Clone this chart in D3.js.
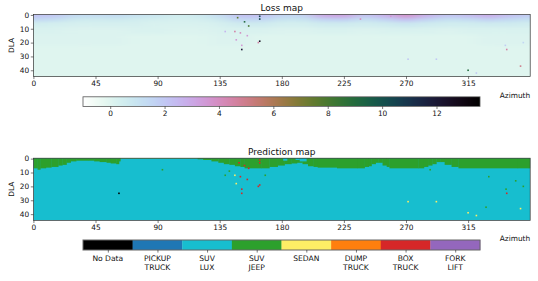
<!DOCTYPE html>
<html><head><meta charset="utf-8">
<script src="https://cdn.jsdelivr.net/npm/d3@7"></script>
<style>
html,body{margin:0;padding:0;background:#fff}
svg{display:block}
text{font-family:"DejaVu Sans",sans-serif;fill:#111}
.domain{display:none}
.tick line{stroke:#222;stroke-width:.6}
</style></head><body><div id="c"></div>
<script>
const azTicks=[0,45,90,135,180,225,270,315];
const dlaTicks=[0,10,20,30,40];
const lossTicks=[0,2,4,6,8,10,12];
const classNames=[["No Data"],["PICKUP","TRUCK"],["SUV","LUX"],["SUV","JEEP"],["SEDAN"],["DUMP","TRUCK"],["BOX","TRUCK"],["FORK","LIFT"]];
const classColors=["#000000","#1f77b4","#17becf","#2ca02c","#fdee65","#ff7f0e","#d62728","#9467bd"];

// Loss background: rows at these DLA edges, columns every 15 degrees of azimuth
const lossCols=[0,15,30,45,60,75,90,105,120,135,150,165,180,195,210,225,240,255,270,285,300,315,330,345,360];
const lossRowEdges=[0,2,5,9,14,22,45];
const lossRow0=[2.1,2.0,1.3,1.2,1.3,1.0,0.8,0.5,0.7,1.2,2.2,2.2,1.5,1.5,3.0,3.2,2.0,2.7,3.8,2.7,2.0,2.3,2.9,2.2,1.8];
const lossRow1=[1.4,1.2,0.7,0.6,0.7,0.5,0.4,0.3,0.4,0.7,1.4,1.4,0.9,0.9,1.5,1.7,1.1,1.5,2.2,1.5,1.1,1.2,1.6,1.3,1.1];
const lossRow2=[0.5,0.4,0.3,0.3,0.3,0.3,0.2,0.2,0.2,0.3,0.6,0.6,0.4,0.4,0.6,0.6,0.5,0.6,0.8,0.6,0.5,0.5,0.6,0.6,0.5];
const lossRow3=[0.2,0.2,0.1,0.1,0.1,0.2,0.2,0.1,0.1,0.2,0.2,0.2,0.1,0.1,0.2,0.2,0.1,0.2,0.2,0.2,0.1,0.2,0.2,0.2,0.2];
const lossRow4=[0.1,0.1,0.1,0.1,0.1,0.0,0.0,0.0,0.0,0.1,0.1,0.0,0.0,0.0,0.0,0.0,0.0,0.0,0.0,0.0,0.0,0.0,0.1,0.1,0.1];
const lossRow5=[0.0,0.0,0.0,0.0,0.0,0.0,0.0,0.0,0.0,0.0,0.0,0.0,0.0,0.0,0.0,0.0,0.0,0.0,0.0,0.0,0.0,0.0,0.0,0.0,0.0];
const lossRows=[lossRow0,lossRow1,lossRow2,lossRow3,lossRow4,lossRow5];

// Loss outliers
const lossSpotAz=[148,153,156,164,164,139,146,150,155,147,164,163,151,151,237,259,271.5,292,342,343,355,353,315,321];
const lossSpotDla=[2,5,8,1,3,12,12,13,15,18,19,20,22,25,3,1,32,32,22,25,20,37,40,42];
const lossSpotVal=[7.5,9,8,10.5,10.5,2.6,4.5,4,3.5,3.5,12.5,4.5,3.5,12,4,3.5,2,2,1.8,4.5,1.5,5,9,2];

// Prediction: depth of the SUV JEEP band from the top, by azimuth start
const bandAz=[0,3,5,9,13,18,21,24,27,31,40,44,48,53,56,60,62,63,119,123,129,134,138,142,146,150,153,165,171,177,182,187,191,195,199,203,206,220,235,240,243,245,248,250,253,256,258,279,283,286,289,292,295,298,303,308,351,359];
const bandDepth=[7,8,7,6.5,6,5,4.5,3,2,1.5,1.5,2,2.5,3,3.5,4,2,0,0.5,1,2,3,4,4.5,5.5,6,7,7,6,5,4,3.5,3,4,5.5,6,6.5,7,7,6,5.5,4,3,3,5,6,7,7,6,5,4,2.5,2.5,4.5,6,7,7,7];

// Cyan notches inside the band
const holeAz=[181,190,193];
const holeWidth=[3,3,5];
const holeDepth=[1.5,1,2];

// Isolated prediction cells
const spotAz=[62,93.5,149,153,156,164,164,139,142,146,150,155,147,164,163,151,151,168,271.5,292,330,349.5,355,342.5,343,353,328,315,321,287.5];
const spotDla=[25,8,3,5,7,1,3,12,9,12,13,15,18,19,20,22,25,12,31,31,13,16,20,22,25,36,35,39,41,8];
const spotClass=[0,3,6,6,6,6,6,3,3,4,6,6,4,6,6,6,6,3,4,4,3,3,3,3,6,4,3,4,4,3];

const W=538,H=281;
const svg=d3.select("#c").append("svg").attr("width",W).attr("height",H);
const defs=svg.append("defs");
defs.append("filter").attr("id","soft").attr("x","-5%").attr("y","-20%").attr("width","110%").attr("height","140%")
  .append("feGaussianBlur").attr("stdDeviation","8 1.8");
defs.append("filter").attr("id","px").attr("x","-5%").attr("y","-5%").attr("width","110%").attr("height","110%")
  .append("feGaussianBlur").attr("stdDeviation","0.35");

const L=33.4,R=530.2,cellW=1.6,cellH=1.6;
const x=d3.scaleLinear().domain([0,360]).range([L,R]);
const yTop=d3.scaleLinear().domain([-0.3,44.5]).range([14.5,76.5]);
const yBot=d3.scaleLinear().domain([-0.3,44.5]).range([158.2,220.4]);

// matplotlib cubehelix_r colormap
function helix(t){
  const f=1-t, A=f*(1-f)/2, phi=2*Math.PI*(0.5/3+1-1.5*f);
  const c=Math.cos(phi), s=Math.sin(phi);
  const r=f+A*(-0.14861*c+1.78277*s), g=f+A*(-0.29227*c-0.90649*s), b=f+A*(1.97294*c);
  const k=v=>Math.round(255*Math.max(0,Math.min(1,v)));
  return `rgb(${k(r)},${k(g)},${k(b)})`;
}
const lossColor=d3.scaleSequential(helix).domain([-1,13.6]);

function frame(id,y,top,bottom,title){
  const g=svg.append("g");
  defs.append("clipPath").attr("id",id).append("rect").attr("x",L).attr("y",top).attr("width",R-L).attr("height",bottom-top);
  const plot=g.append("g").attr("clip-path",`url(#${id})`);
  const finish=()=>{
    g.append("rect").attr("x",L).attr("y",top).attr("width",R-L).attr("height",bottom-top)
      .attr("fill","none").attr("stroke","#333").attr("stroke-width",.7);
    const ax=g.append("g").attr("transform",`translate(0,${bottom})`).call(d3.axisBottom(x).tickValues(azTicks).tickSize(2.6).tickPadding(2));
    ax.selectAll("text").attr("font-size",7.4);
    const ay=g.append("g").attr("transform",`translate(${L},0)`).call(d3.axisLeft(y).tickValues(dlaTicks).tickSize(2.6).tickPadding(1.6));
    ay.selectAll("text").attr("font-size",7.4);
    g.append("text").attr("x",(L+R)/2).attr("y",top-3.4).attr("text-anchor","middle").attr("font-size",9).text(title);
    g.append("text").attr("transform",`translate(13.6,${(top+bottom)/2}) rotate(-90)`).attr("text-anchor","middle").attr("font-size",7.4).text("DLA");
  };
  return {plot,finish,g};
}

// --- Loss map
const f1=frame("clipA",yTop,14.5,76.5,"Loss map");
f1.plot.append("rect").attr("x",L).attr("y",14.5).attr("width",R-L).attr("height",62).attr("fill",lossColor(0));
const soft=f1.plot.append("g").attr("filter","url(#soft)");
lossRows.forEach((row,ri)=>{
  row.forEach((v,ci)=>{
    const a0=ci===0?-40:lossCols[ci]-7.5, a1=ci===row.length-1?400:lossCols[ci]+7.5;
    const d0=ri===0?-15:lossRowEdges[ri], d1=ri===lossRows.length-1?60:lossRowEdges[ri+1];
    soft.append("rect").attr("x",x(a0)).attr("width",x(a1)-x(a0)+.5)
      .attr("y",yTop(d0)).attr("height",yTop(d1)-yTop(d0)+.5).attr("fill",lossColor(v));
  });
});
f1.plot.append("g").attr("filter","url(#px)").selectAll("rect").data(lossSpotAz).join("rect")
  .attr("x",d=>x(d)-.8).attr("width",cellW)
  .attr("y",(d,i)=>yTop(lossSpotDla[i])-.8).attr("height",cellH)
  .attr("fill",(d,i)=>lossColor(lossSpotVal[i]));
f1.finish();

// Loss colorbar
const barL=83,barR=480;
const cx=d3.scaleLinear().domain([-1,13.6]).range([barL,barR]);
const cg=svg.append("g");
cg.selectAll("rect").data(d3.range(barL,barR)).join("rect")
  .attr("x",d=>d).attr("width",1).attr("y",96.8).attr("height",9.6)
  .attr("shape-rendering","crispEdges")
  .attr("fill",d=>lossColor(cx.invert(d+.5)));
cg.append("rect").attr("x",barL).attr("y",96.8).attr("width",barR-barL).attr("height",9.6)
  .attr("fill","none").attr("stroke","#555").attr("stroke-width",.8);
const cax=cg.append("g").attr("transform","translate(0,106.4)").call(d3.axisBottom(cx).tickValues(lossTicks).tickSize(2.6).tickPadding(2));
cax.selectAll("text").attr("font-size",7.4);
svg.append("text").attr("x",R).attr("y",97.6).attr("text-anchor","end").attr("font-size",7.4).text("Azimuth");

// --- Prediction map
const f2=frame("clipB",yBot,158.2,220.4,"Prediction map");
f2.plot.append("rect").attr("x",L).attr("y",158.2).attr("width",R-L).attr("height",62.2).attr("fill",classColors[2]);
f2.plot.selectAll("rect.band").data(bandAz).join("rect").attr("class","band")
  .attr("x",d=>x(d))
  .attr("width",(d,i)=>x(i<bandAz.length-1?bandAz[i+1]:360)-x(d)+.3)
  .attr("y",yBot(-0.5))
  .attr("height",(d,i)=>yBot(bandDepth[i])-yBot(-0.5))
  .attr("fill",classColors[3]);
f2.plot.selectAll("rect.hole").data(holeAz).join("rect").attr("class","hole")
  .attr("x",d=>x(d)).attr("width",(d,i)=>x(holeWidth[i])-x(0))
  .attr("y",yBot(-0.5)).attr("height",(d,i)=>yBot(holeDepth[i])-yBot(-0.5))
  .attr("fill",classColors[2]);
f2.plot.selectAll("rect.spot").data(spotAz).join("rect").attr("class","spot")
  .attr("x",d=>x(d)-.8).attr("width",cellW)
  .attr("y",(d,i)=>yBot(spotDla[i])-.8).attr("height",cellH)
  .attr("fill",(d,i)=>classColors[spotClass[i]]);
f2.finish();

// Class colorbar
const bx=d3.scaleBand().domain(d3.range(classNames.length)).range([barL,barR]);
const lg=svg.append("g");
lg.selectAll("rect").data(classColors).join("rect")
  .attr("x",(d,i)=>bx(i)).attr("width",bx.bandwidth()+.3).attr("y",240).attr("height",10).attr("fill",d=>d);
lg.append("rect").attr("x",barL).attr("y",240).attr("width",barR-barL).attr("height",10)
  .attr("fill","none").attr("stroke","#666").attr("stroke-width",1);
const tx=d3.scalePoint().domain(d3.range(classNames.length)).range([barL+bx.bandwidth()/2,barR-bx.bandwidth()/2]);
lg.append("g").attr("transform","translate(0,250)")
  .call(d3.axisBottom(tx).tickSize(2.6).tickFormat(""));
classNames.forEach((lines,i)=>{
  lines.forEach((s,j)=>{
    lg.append("text").attr("x",tx(i)).attr("y",261.2+j*8.4).attr("text-anchor","middle").attr("font-size",7.6).text(s);
  });
});
svg.append("text").attr("x",R).attr("y",241.4).attr("text-anchor","end").attr("font-size",7.4).text("Azimuth");
</script></body></html>
